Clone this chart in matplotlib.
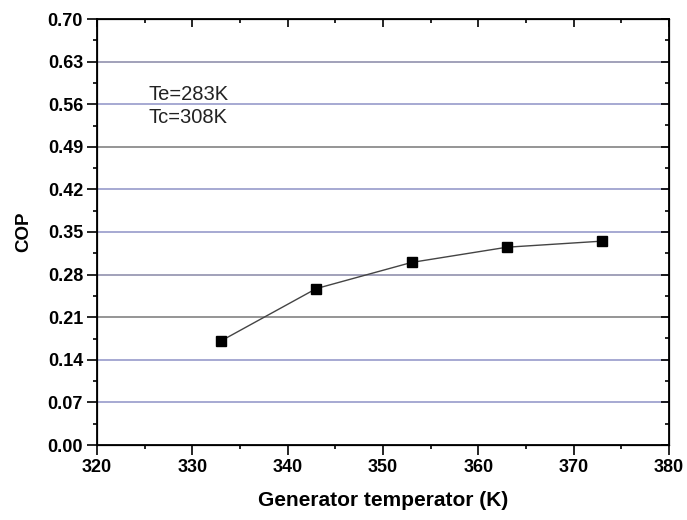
import numpy as np
from matplotlib import pyplot as plt
from matplotlib.ticker import MultipleLocator

# generator temperature (K) and COP
temp = [333, 343, 353, 363, 373]
cop = [0.171, 0.257, 0.300, 0.325, 0.335]

y_ticks = [0.00, 0.07, 0.14, 0.21, 0.28, 0.35, 0.42, 0.49, 0.56, 0.63, 0.70]
x_ticks = [320, 330, 340, 350, 360, 370, 380]

plt.rcParams['font.family'] = ['Liberation Sans', 'DejaVu Sans']

fig = plt.figure(figsize=(6.87, 5.2), dpi=100)
ax = fig.add_axes([97 / 687, 1 - 445 / 520, 572 / 687, 426 / 520])

# horizontal grid lines, alternating blue-grey and grey
grid_colors = ['#9fa2cf', '#9fa2cf', '#8c8c8c', '#9a9ab4', '#9fa2cf',
               '#9fa2cf', '#8c8c8c', '#9fa2cf', '#9a9ab4']
for yv, c in zip(y_ticks[1:-1], grid_colors):
    ax.axhline(yv, color=c, lw=1.3, zorder=1)

ax.plot(temp, cop, color='#444444', lw=1.0, marker='s', ms=7,
        mfc='black', mec='black', zorder=3)

ax.set_xlim(320, 380)
ax.set_ylim(0, 0.70)
ax.set_xticks(x_ticks)
ax.set_yticks(y_ticks)
ax.set_yticklabels([f'{v:.2f}' for v in y_ticks])
ax.xaxis.set_minor_locator(MultipleLocator(5))
ax.yaxis.set_minor_locator(MultipleLocator(0.035))

for s in ax.spines.values():
    s.set_linewidth(1.3)

ax.tick_params(which='both', direction='out', top=False, right=False, width=1.2)
ax.tick_params(which='major', length=7, pad=3)
ax.tick_params(which='minor', length=3)

# mirrored ticks pointing inwards on top and right
ax2 = ax.twinx()
ax2.set_ylim(ax.get_ylim())
ax2.set_yticks(y_ticks)
ax2.yaxis.set_minor_locator(MultipleLocator(0.035))
ax2.tick_params(which='both', direction='in', labelright=False, width=1.2)
ax2.tick_params(which='major', length=6)
ax2.tick_params(which='minor', length=3)
ax3 = ax.twiny()
ax3.set_xlim(ax.get_xlim())
ax3.set_xticks(x_ticks)
ax3.xaxis.set_minor_locator(MultipleLocator(5))
ax3.tick_params(which='both', direction='in', labeltop=False, width=1.2)
ax3.tick_params(which='major', length=6)
ax3.tick_params(which='minor', length=3)

for lab in ax.get_yticklabels() + ax.get_xticklabels():
    lab.set_fontsize(13)
    lab.set_fontweight('bold')

ax.set_xlabel('Generator temperator (K)', fontsize=15, fontweight='bold',
              labelpad=11)
ax.set_ylabel('COP', fontsize=13.5, fontweight='bold', labelpad=11)

ax.text(325.4, 0.567, 'Te=283K', fontsize=14.5, color='#222222')
ax.text(325.4, 0.529, 'Tc=308K', fontsize=14.5, color='#222222')

plt.savefig('out.png', dpi=100)
